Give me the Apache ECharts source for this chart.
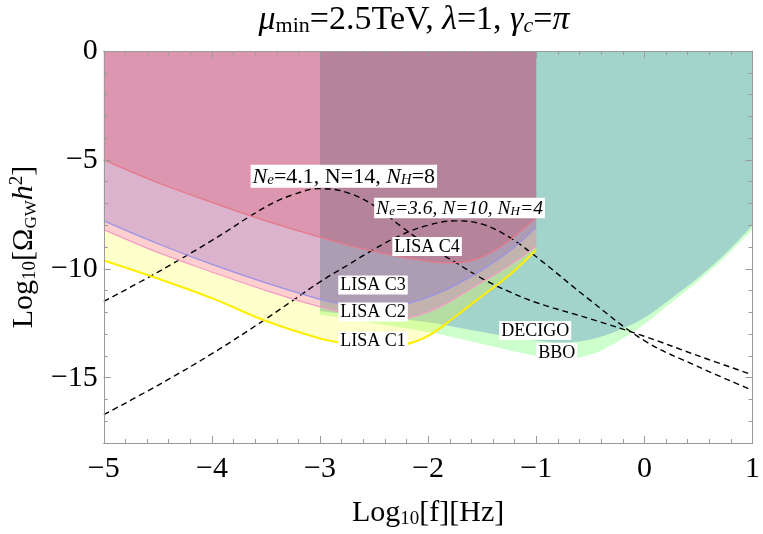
<!DOCTYPE html>
<html><head><meta charset="utf-8">
<script src="https://cdn.jsdelivr.net/npm/echarts@6/dist/echarts.min.js"></script>
<style>html,body{margin:0;padding:0;background:#fff}#c{width:763px;height:534px}</style>
</head><body><div id="c"></div>
<script>
const FONT = '"Liberation Serif","Times New Roman",serif';

// LISA sensitivity curves (log10 f, log10 Omega h^2)
const lisaX  = [-5, -4.5, -4, -3.5, -3, -2.75, -2.5, -2.25, -2.125, -2, -1.875, -1.75, -1.5, -1.25, -1];
const lisaC1 = [-9.62, -10.45, -11.35, -12.4, -13.2, -13.45, -13.62, -13.52, -13.35, -13.08, -12.68, -12.2, -11.25, -10.3, -9.13];
const lisaC2 = [-8.2, -9.25, -10.15, -11.0, -11.75, -12.05, -12.32, -12.3, -12.18, -11.98, -11.7, -11.35, -10.6, -9.85, -8.95];
const lisaC3 = [-7.8, -8.85, -9.8, -10.65, -11.4, -11.65, -11.75, -11.65, -11.5, -11.3, -11.05, -10.75, -10.05, -9.2, -8.1];
const lisaC4 = [-5.0, -6.05, -6.95, -7.8, -8.55, -8.9, -9.2, -9.45, -9.55, -9.65, -9.72, -9.72, -9.45, -8.7, -7.65];

// DECIGO / BBO sensitivity curves
const detX   = [-3, -2.5, -2, -1.5, -1, -0.75, -0.5, -0.25, 0, 0.25, 0.5, 0.75, 1];
const decigo = [-11.95, -12.2, -12.45, -12.9, -13.3, -13.38, -13.25, -12.85, -12.25, -11.35, -10.4, -9.3, -8.0];
const bbo    = [-12.1, -12.5, -12.9, -13.45, -14.0, -14.15, -13.95, -13.35, -12.55, -11.55, -10.55, -9.45, -8.2];

// GW spectra
const specX = [-5, -4.5, -4, -3.5, -3.25, -3, -2.75, -2.5, -2.25, -2, -1.75, -1.5, -1.25, -1, -0.5, 0, 0.5, 1];
const specA = [-11.5, -10.15, -8.7, -7.15, -6.6, -6.32, -6.5, -7.1, -8.05, -8.95, -9.7, -10.45, -11.05, -11.55, -12.3, -13.1, -14.0, -14.87];
const specB = [-16.7, -15.35, -13.9, -12.3, -11.45, -10.6, -9.85, -9.1, -8.45, -8.0, -7.8, -7.95, -8.55, -9.45, -11.45, -13.3, -14.5, -15.58];

// ticks
const xTickValues = [-5, -4, -3, -2, -1, 0, 1];
const xTickLabels = ['\u22125', '\u22124', '\u22123', '\u22122', '\u22121', '0', '1'];
const yTickValues = [0, -5, -10, -15];
const yTickLabels = ['0', '\u22125', '\u221210', '\u221215'];

// annotation texts (rich) and anchors
const annotations = [
  {text: '{i|N}{s|e}{r|=4.1, N=14, }{i|N}{s|H}{r|=8}', x: -2.78, y: -5.75, size: 'big'},
  {text: '{i|N}{s|e}{i|=3.6, N=10, N}{s|H}{i|=4}', x: -1.71, y: -7.21, size: 'mid'},
  {text: '{r|LISA C4}', x: -2.01, y: -8.98},
  {text: '{r|LISA C3}', x: -2.51, y: -10.75},
  {text: '{r|LISA C2}', x: -2.51, y: -11.99},
  {text: '{r|LISA C1}', x: -2.51, y: -13.32},
  {text: '{r|DECIGO}', x: -1.01, y: -12.83},
  {text: '{r|BBO}', x: -0.81, y: -13.85}
];

const zip = (xs, ys) => xs.map((x, i) => [x, ys[i]]);
const axisCol = '#9a9a9a';

function xAxisCfg(pos, showLabel) {
  return {
    type: 'value', position: pos, min: -5, max: 1, interval: 1, z: 10,
    axisLine: {show: true, onZero: false, lineStyle: {color: axisCol, width: 1}},
    axisTick: {show: true, inside: true, length: 7, lineStyle: {color: axisCol}},
    minorTick: {show: true, splitNumber: 5, length: 4, lineStyle: {color: axisCol}},
    splitLine: {show: false},
    axisLabel: {show: showLabel, margin: 11, color: '#000', fontFamily: FONT, fontSize: 30,
      formatter: v => { const i = xTickValues.indexOf(Math.round(v)); return i >= 0 ? xTickLabels[i] : ''; }},
    name: showLabel ? '{r|Log}{s|10}{r|[f][Hz]}' : '',
    nameLocation: 'middle', nameGap: 54,
    nameTextStyle: {color: '#000', fontFamily: FONT, fontSize: 30,
      rich: {r: {fontFamily: FONT, fontSize: 30, lineHeight: 32, color: '#000'},
             s: {fontFamily: FONT, fontSize: 19, lineHeight: 15, verticalAlign: 'bottom', color: '#000'}}}
  };
}
function yMinorCfg(pos, showLabel) {
  return {
    type: 'value', position: pos, min: -18, max: 0, interval: 1, z: 10,
    axisLine: {show: true, onZero: false, lineStyle: {color: axisCol, width: 1}},
    axisTick: {show: true, inside: true, length: 4, lineStyle: {color: axisCol}},
    splitLine: {show: false},
    axisLabel: {show: showLabel, margin: 6, color: '#000', fontFamily: FONT, fontSize: 30,
      formatter: v => { const i = yTickValues.indexOf(Math.round(v)); return i >= 0 ? yTickLabels[i] : ''; }},
    name: showLabel ? '{r|Log}{s|10}{r|[\u03A9}{g|GW}{i|h}{p|2}{r|]}' : '',
    nameLocation: 'middle', nameGap: 60, nameRotate: 90,
    nameTextStyle: {color: '#000', fontFamily: FONT, fontSize: 30,
      rich: {r: {fontFamily: FONT, fontSize: 30, lineHeight: 32, color: '#000'},
             i: {fontFamily: FONT, fontSize: 30, fontStyle: 'italic', lineHeight: 32, color: '#000'},
             s: {fontFamily: FONT, fontSize: 19, lineHeight: 15, verticalAlign: 'bottom', color: '#000'},
             g: {fontFamily: FONT, fontSize: 17, lineHeight: 15, verticalAlign: 'bottom', color: '#000'},
             p: {fontFamily: FONT, fontSize: 19, lineHeight: 15, verticalAlign: 'top', color: '#000'}}}
  };
}
function yMajorCfg(pos) {
  return {
    type: 'value', position: pos, min: 0, max: 18, interval: 5, inverse: true, z: 10,
    axisLine: {show: false, onZero: false},
    axisTick: {show: true, inside: true, length: 7, lineStyle: {color: axisCol}},
    splitLine: {show: false}, axisLabel: {show: false}
  };
}

// fill from curve up to the top of the plot, Mathematica-style translucent
function fillTop(name, xs, ys, color, opacity, lineColor, lineWidth) {
  return {type: 'line', name: name, data: zip(xs, ys), smooth: 0.35, symbol: 'none', silent: true,
    lineStyle: {color: lineColor || color, width: lineWidth || 0},
    areaStyle: {color: color, opacity: opacity, origin: 'end'}};
}

function richFor(sz) {
  const f = sz, sf = Math.round(sz * 0.68);
  return {
    r: {fontFamily: FONT, fontSize: f, lineHeight: f, color: '#000'},
    i: {fontFamily: FONT, fontSize: f, fontStyle: 'italic', lineHeight: f, color: '#000'},
    s: {fontFamily: FONT, fontSize: sf, fontStyle: 'italic', lineHeight: sf - 2, verticalAlign: 'bottom', color: '#000'}
  };
}
const sizes = {big: 22, mid: 19.5, normal: 18};

const option = {
  animation: false,
  backgroundColor: '#fff',
  grid: {left: 101, right: 6, top: 51, bottom: 77, containLabel: false},
  xAxis: [xAxisCfg('bottom', true), xAxisCfg('top', false)],
  yAxis: [yMinorCfg('left', true), yMajorCfg('left'), yMinorCfg('right', false), yMajorCfg('right')],
  graphic: [{
    type: 'text', x: 414, y: 20, silent: true, z: 20,
    style: {
      text: '{i|\u03BC}{s|min}{r|=2.5TeV, }{i|\u03BB}{r|=1, }{i|\u03B3}{si|c}{r|=}{i|\u03C0}',
      align: 'center', verticalAlign: 'middle', fontFamily: FONT, fontSize: 34, fill: '#000',
      rich: {
        r: {fontFamily: FONT, fontSize: 34, lineHeight: 34, fill: '#000'},
        i: {fontFamily: FONT, fontSize: 34, fontStyle: 'italic', lineHeight: 34, fill: '#000'},
        s: {fontFamily: FONT, fontSize: 22, lineHeight: 18, verticalAlign: 'bottom', fill: '#000'},
        si: {fontFamily: FONT, fontSize: 22, fontStyle: 'italic', lineHeight: 18, verticalAlign: 'bottom', fill: '#000'}
      }
    }
  }],
  series: [
    fillTop('BBO', detX, bbo, 'rgb(204,255,204)', 1),
    fillTop('DECIGO', detX, decigo, 'rgb(163,212,204)', 1),
    {type: 'line', name: 'specA', data: zip(specX, specA), smooth: 0.4, symbol: 'none', silent: true,
     lineStyle: {color: '#000', width: 1.4, type: [6, 4]}},
    {type: 'line', name: 'specB', data: zip(specX, specB), smooth: 0.4, symbol: 'none', silent: true,
     lineStyle: {color: '#000', width: 1.4, type: [6, 4]}},
    fillTop('LISA C1', lisaX, lisaC1, 'rgb(255,255,0)', 0.2, '#ffee00', 2),
    fillTop('LISA C2', lisaX, lisaC2, 'rgb(255,15,219)', 0.2, '#f29cc6', 1.3),
    fillTop('LISA C3', lisaX, lisaC3, 'rgb(80,72,197)', 0.2, '#9a94e4', 1.3),
    fillTop('LISA C4', lisaX, lisaC4, 'rgb(225,35,60)', 0.2, '#e5788a', 1.3),
    {type: 'scatter', name: 'labels', silent: true, z: 10,
     symbolSize: 1, itemStyle: {color: '#ffffff', opacity: 1},
     data: annotations.map(a => {
       const sz = sizes[a.size || 'normal'];
       return {value: [a.x, a.y], label: {formatter: a.text, fontSize: sz, rich: richFor(sz)}};
     }),
     label: {show: true, position: 'inside', backgroundColor: '#ffffff', padding: [1, 2, 0, 2],
             fontFamily: FONT, fontSize: 18, color: '#000', opacity: 1}}
  ]
};

const chart = echarts.init(document.getElementById('c'), null, {renderer: 'canvas'});
chart.setOption(option);
</script>
</body></html>
